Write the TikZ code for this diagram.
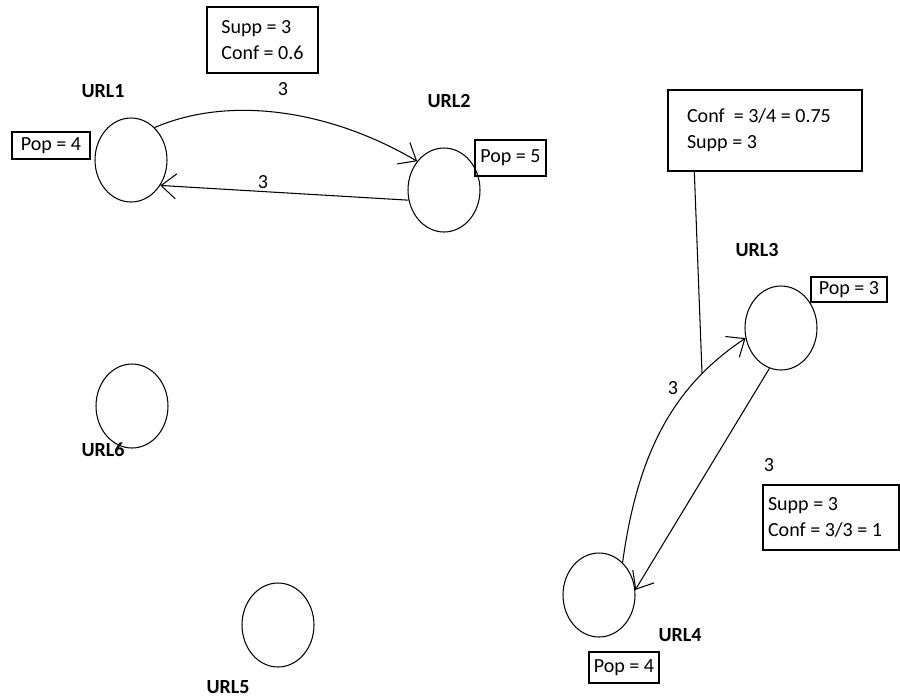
\documentclass[tikz,border=0pt]{standalone}
\usepackage{fontspec}
\setmainfont{Carlito}
\usetikzlibrary{arrows.meta,shapes.geometric}

\begin{document}
\begin{tikzpicture}[x=0.02cm,y=-0.02cm,line width=0.6pt,
  font=\fontsize{11.4}{14.7}\selectfont,
  >={Straight Barb[length=3mm,width=5mm]},
  url/.style={draw, ellipse, minimum width=1.44cm, minimum height=1.68cm, inner sep=0pt},
  tag/.style={font=\fontsize{11.4}{14.7}\selectfont\bfseries},
  pop/.style={draw, line width=0.8pt, inner sep=0pt},
  rule/.style={draw, line width=0.8pt, align=left, inner sep=0pt,
    execute at begin node={\spaceskip=0pt\xspaceskip=0pt\relax}}]
\useasboundingbox (0,0) rectangle (900,698);
\node [url] (u1) at (131,160) {};
\node [url] (u2) at (444,190) {};
\node [url] (u3) at (781,328) {};
\node [url] (u4) at (599,595) {};
\node [url] (u5) at (278,625) {};
\node [url] (u6) at (132,406) {};
\node [tag] (l1) at (103,91) {URL1};
\node [tag] (l2) at (449,101) {URL2};
\node [tag] (l3) at (757,250) {URL3};
\node [tag] (l4) at (680,635) {URL4};
\node [tag] (l5) at (228,687) {URL5};
\node [tag] (l6) at (103,450) {URL6};
\node [pop, minimum width=1.56cm, minimum height=0.54cm] (p1) at (51,145.5) {Pop = 4};
\node [pop, minimum width=1.42cm, minimum height=0.72cm] (p2) at (510.5,158) {Pop = 5};
\node [pop, minimum width=1.52cm, minimum height=0.5cm] (p3) at (849,289.5) {Pop = 3};
\node [pop, minimum width=1.4cm, minimum height=0.62cm] (p4) at (624,667.5) {Pop = 4};
\node [rule, minimum width=2.22cm, minimum height=1.32cm] (r12) at (262.5,40) {Supp = 3\\Conf = 0.6};
\node [rule, text width=3.12cm, minimum width=3.88cm, minimum height=1.62cm] (r43) at (765,130.5) {Conf~~= 3/4 = 0.75\\Supp = 3};
\node [rule, text width=2.52cm, minimum width=2.72cm, minimum height=1.3cm] (r34) at (831,517.5) {Supp = 3\\Conf = 3/3 = 1};
% URL1 <-> URL2
\draw [->] (u1.54) .. controls (230,95) and (330,110) .. (u2.133);
\node (w12) at (283,89) {3};
\draw [->] (u2.196) -- (u1.319);
\node (w21) at (263,182) {3};
% URL3 <-> URL4
\draw [->] (u4.54) .. controls (638,450) and (675,385) .. (u3.196);
\node (w43) at (673,388) {3};
\draw [->] (u3.254) -- (u4.8);
\node (w34) at (769,465) {3};
\coordinate (tail) at (702,373);
\draw (r43.south west) ++(27,0) -- (tail);
\end{tikzpicture}
\end{document}
